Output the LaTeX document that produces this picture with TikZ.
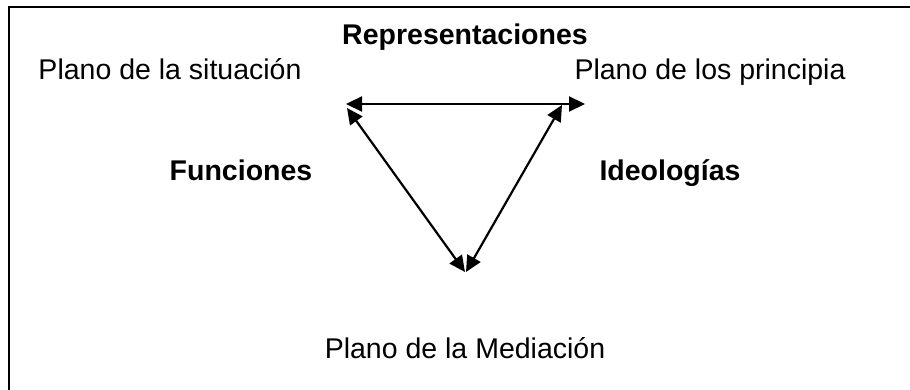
\documentclass[tikz,border=0pt]{standalone}
\usepackage{fontspec}
\setmainfont{Liberation Sans}
\usetikzlibrary{arrows.meta}

\begin{document}
\begin{tikzpicture}[x=1pt,y=-1pt,
			plano/.style={anchor=base, inner sep=0pt, font=\fontsize{28.5}{34}\selectfont},
			eje/.style={anchor=base, inner sep=0pt, font=\fontsize{28.5}{34}\selectfont\bfseries},
			flecha/.style={line width=2.2pt, {Triangle[length=16pt,width=15pt]}-{Triangle[length=16pt,width=15pt]}}]
			\useasboundingbox (0,0) rectangle (910,390);
			\draw [line width=2pt] (9,7) rectangle (930,410);

			\coordinate (sa) at (346,104);
			\coordinate (sb) at (347,108);
			\coordinate (pa) at (585,104);
			\coordinate (pb) at (562,105);
			\coordinate (ma) at (465,272);
			\coordinate (mb) at (466,272);

			\node [eje] (rep) at (465,45) {Representaciones};
			\node [plano] (sit) at (170,80) {Plano de la situación};
			\node [plano] (pri) at (710,80) {Plano de los principia};
			\node [eje] (fun) at (241,181) {Funciones};
			\node [eje] (ide) at (670,181) {Ideologías};
			\node [plano] (med) at (465,358) {Plano de la Mediación};

			\draw [flecha] (sa) -- (pa);
			\draw [flecha] (sb) -- (ma);
			\draw [flecha] (mb) -- (pb);

		\end{tikzpicture}
\end{document}
